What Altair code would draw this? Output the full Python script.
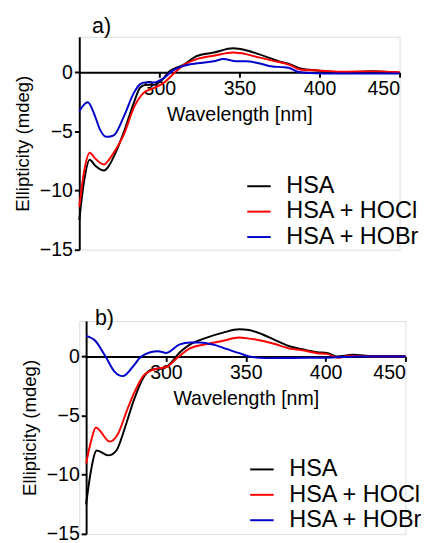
import altair as alt
import pandas as pd

series_names = ["HSA", "HSA + HOCl", "HSA + HOBr"]
series_colors = ["#000000", "#ff0000", "#0000cc"]

# Panel a
a_hsa_wl = [250, 253, 256.5, 260, 265.5, 268.5, 272, 278, 284, 288, 291, 297, 300.4, 306.5, 314.6, 323.8, 334, 346, 354, 362, 370.5, 376.6, 380.7, 388.8, 399, 413, 433.5, 450]
a_hsa_val = [-12.5, -9.2, -7.4, -7.9, -8.3, -7.9, -7.0, -5.0, -2.6, -1.3, -1.07, -1.05, -0.8, 0.1, 0.6, 1.4, 1.67, 2.03, 1.87, 1.54, 1.13, 0.85, 0.72, 0.3, 0.16, -0.05, 0.1, -0.05]
a_hocl_wl = [250, 253, 256.5, 260, 265.5, 268.5, 272, 278, 284, 290, 296, 302.4, 308.5, 314, 323.8, 334, 346, 354, 362, 370.5, 380.7, 388.8, 399, 413, 433.5, 450]
a_hocl_val = [-11.4, -8.4, -6.8, -7.3, -7.8, -7.4, -6.7, -5.2, -3.0, -1.76, -1.35, -0.93, -0.16, 0.5, 1.13, 1.4, 1.67, 1.54, 1.26, 0.99, 0.66, 0.22, 0.16, 0.05, 0.08, 0.0]
a_hobr_wl = [250, 255.3, 259.8, 262.8, 266.9, 270, 272, 278, 284, 288, 291, 297, 302.4, 308.5, 314, 323.8, 334, 340, 348, 354, 362, 370.5, 376.6, 380.7, 386.9, 393, 413, 450]
a_hobr_val = [-3.27, -2.53, -3.7, -4.8, -5.45, -5.4, -5.28, -3.68, -1.76, -1.0, -0.85, -0.85, -0.52, 0.16, 0.5, 0.77, 0.93, 1.13, 0.93, 0.93, 0.77, 0.49, 0.44, 0.38, 0.03, -0.05, -0.1, -0.1]

# Panel b
b_hsa_wl = [250, 252.6, 256.7, 263.8, 268.9, 274, 280, 286.2, 291.3, 298.4, 304.5, 308, 315, 325.6, 335.8, 345.9, 352, 360.2, 368.3, 376.4, 384.6, 394.7, 400.8, 407, 417, 430, 450]
b_hsa_val = [-12.5, -10.0, -7.95, -8.36, -7.95, -6.15, -3.65, -1.72, -1.1, -1.02, -0.33, 0.25, 1.0, 1.6, 2.02, 2.3, 2.24, 1.88, 1.39, 0.91, 0.64, 0.36, 0.3, 0.0, 0.14, 0.05, 0.05]
b_hocl_wl = [250, 253.2, 256.1, 264.8, 269.9, 275, 280, 286.2, 292.3, 300.4, 306.5, 315, 325.6, 335.8, 345.9, 350, 360.2, 368.3, 378.5, 384.6, 394.7, 400.8, 408, 415, 430, 450]
b_hocl_val = [-9.05, -7.1, -6.0, -7.2, -6.56, -4.76, -3.1, -1.58, -1.1, -0.89, -0.19, 0.68, 1.05, 1.33, 1.6, 1.55, 1.33, 1.05, 0.64, 0.55, 0.28, 0.22, -0.11, 0.06, 0.0, 0.0]
b_hobr_wl = [250, 255.7, 261.8, 267.9, 273, 279.1, 284.1, 290.2, 295, 300.3, 308.3, 315.4, 321.5, 329.7, 337.8, 345.9, 354, 362, 380, 400, 420, 450]
b_hobr_val = [1.74, 1.33, 0.08, -1.3, -1.66, -0.89, -0.05, 0.36, 0.45, 0.3, 1.0, 1.19, 1.19, 1.0, 0.64, 0.28, -0.05, -0.14, -0.12, -0.1, 0.0, 0.0]

x_ticks = [300, 350, 400, 450]
y_ticks = [0, -5, -10, -15]

FONT = "Liberation Sans"
H = 218


def make_df(wls, vals):
    rows = []
    for name, w, v in zip(series_names, wls, vals):
        for wi, vi in zip(w, v):
            rows.append({"series": name, "wl": wi, "v": vi})
    return pd.DataFrame(rows)


def panel(df, label, x_start, width, title_dx, title_offset, leg_x, leg_y):
    x = alt.X(
        "wl:Q",
        scale=alt.Scale(domain=[250, 450], range=[x_start, width], nice=False, zero=False),
        axis=alt.Axis(
            values=x_ticks, offset=-H * 15 / 18, title="Wavelength [nm]",
            labelFontSize=20, titleFontSize=20, labelFont=FONT, titleFont=FONT,
            titleFontWeight="normal", tickSize=5, tickWidth=2, domainWidth=2,
            domainColor="black", tickColor="black", labelColor="black", titleColor="black",
            labelPadding=2, titlePadding=6, grid=False,
        ),
    )
    y = alt.Y(
        "v:Q",
        scale=alt.Scale(domain=[-15, 3], nice=False, zero=False),
        axis=alt.Axis(
            values=y_ticks, offset=-x_start, title="Ellipticity (mdeg)",
            labelFontSize=20, titleFontSize=19, labelFont=FONT, titleFont=FONT,
            titleFontWeight="normal", tickSize=5, tickWidth=2, domainWidth=2,
            domainColor="black", tickColor="black", labelColor="black", titleColor="black",
            labelPadding=2, titlePadding=7, grid=False,
        ),
    )
    color = alt.Color(
        "series:N",
        scale=alt.Scale(domain=series_names, range=series_colors),
        legend=alt.Legend(
            title=None, orient="none", legendX=leg_x, legendY=leg_y,
            symbolType="stroke", symbolSize=576, symbolStrokeWidth=2,
            labelFontSize=24, labelFont=FONT, labelColor="black",
            labelOffset=15, rowPadding=1,
        ),
    )
    return (
        alt.Chart(df)
        .mark_line(interpolate="monotone", strokeWidth=2)
        .encode(x=x, y=y, color=color)
        .properties(
            width=width, height=H,
            title=alt.TitleParams(
                label, anchor="start", frame="group", dx=title_dx, offset=title_offset,
                fontSize=22, font=FONT, fontWeight="normal", color="black",
                baseline="alphabetic",
            ),
        )
    )


pa = panel(make_df([a_hsa_wl, a_hocl_wl, a_hobr_wl], [a_hsa_val, a_hocl_val, a_hobr_val]),
           "a)", 0, 328, 13, -18, 171, 140)
pb = panel(make_df([b_hsa_wl, b_hocl_wl, b_hobr_wl], [b_hsa_val, b_hocl_val, b_hobr_val]),
           "b)", 7, 334, 16, -26, 174, 139)

chart = (
    alt.vconcat(pa, pb, spacing=47)
    .resolve_scale(color="independent")
    .resolve_legend(color="independent")
    .configure_view(stroke=None)
    .configure(background="white", padding={"left": 5, "top": 0, "right": 0, "bottom": 0})
)

chart.save("out.html", embed_options={"renderer": "svg", "actions": False})
